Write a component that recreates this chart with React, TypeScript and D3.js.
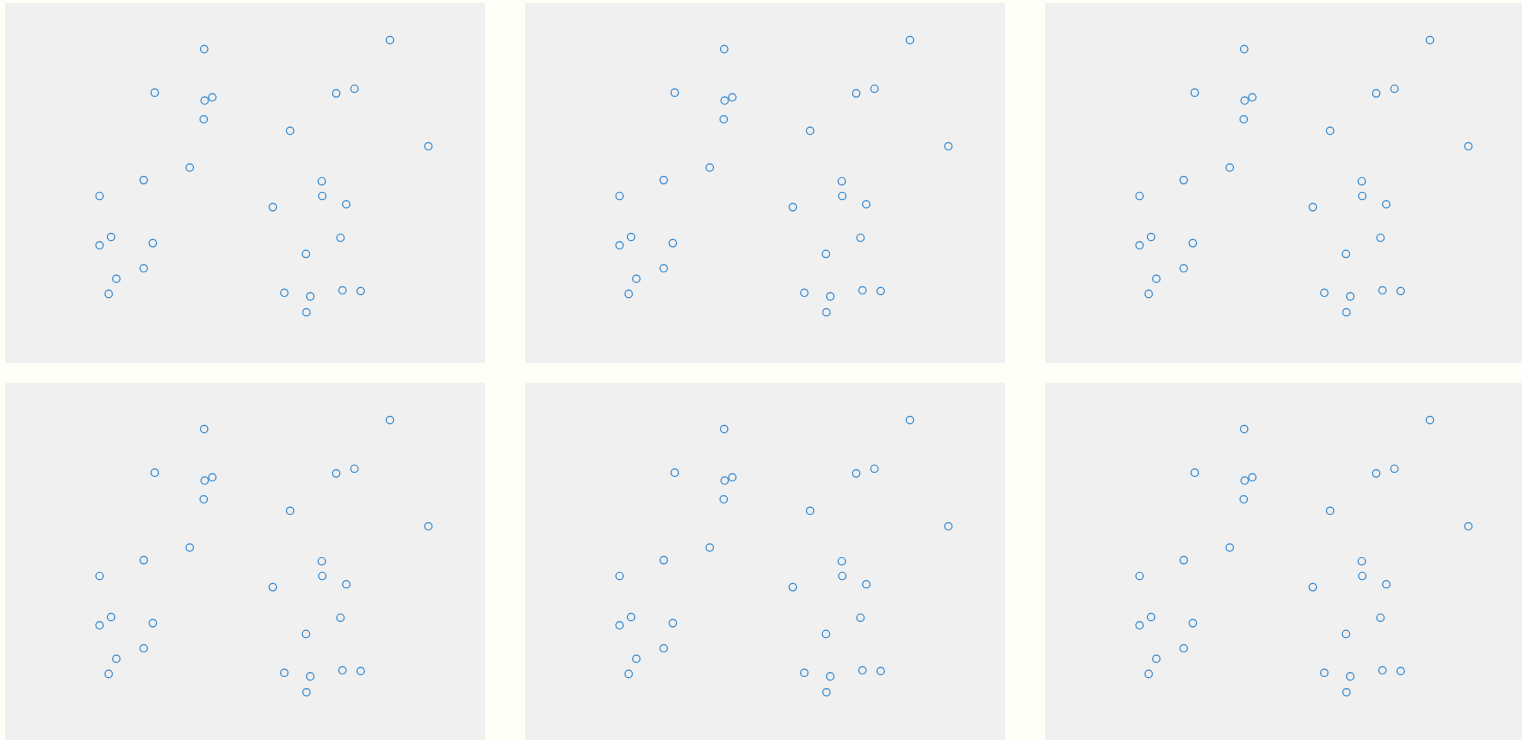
import React, { useEffect, useRef } from 'react';
import * as d3 from 'd3';

// scatter values (same set drawn in every panel)
const xValues = [
  41.5, 80.2, 31.2, 41.6, 43.2, 69.0, 72.8, 41.4, 59.4, 88.2,
  38.5, 28.9, 19.7, 66.0, 66.1, 71.1, 55.8, 22.1, 19.7, 30.8,
  69.9, 62.7, 28.9, 23.2, 21.6, 58.2, 63.6, 70.3, 74.1, 62.8,
];
const yValues = [
  87.2, 89.7, 75.1, 72.9, 73.8, 74.9, 76.2, 67.7, 64.5, 60.2,
  54.3, 50.8, 46.4, 50.5, 46.4, 44.1, 43.3, 35.0, 32.7, 33.3,
  34.8, 30.3, 26.3, 23.4, 19.2, 19.5, 18.5, 20.2, 20.0, 14.1,
];
const panels = [0, 1, 2, 3, 4, 5];

const W = 1522;
const H = 740;
const panelW = 480;
const panelH = 360;

export default function App() {
  const ref = useRef<SVGSVGElement>(null);

  useEffect(() => {
    const svg = d3.select(ref.current);
    svg.selectAll('*').remove();

    svg.append('rect').attr('width', W).attr('height', H).attr('fill', '#fffff8');

    const x = d3.scaleLinear().domain([0, 100]).range([0, panelW]);
    const y = d3.scaleLinear().domain([0, 100]).range([panelH, 0]);
    const points = xValues.map((v, i) => ({ x: v, y: yValues[i] }));

    panels.forEach((p) => {
      const col = p % 3;
      const row = Math.floor(p / 3);
      const g = svg
        .append('g')
        .attr('transform', 'translate(' + (5 + col * 520) + ',' + (3 + row * 380) + ')');
      g.append('rect').attr('width', panelW).attr('height', panelH).attr('fill', '#f0f0f0');
      g.selectAll('circle')
        .data(points)
        .enter()
        .append('circle')
        .attr('cx', (d) => x(d.x))
        .attr('cy', (d) => y(d.y))
        .attr('r', 3.7)
        .attr('fill', 'none')
        .attr('stroke', '#3f8fd2')
        .attr('stroke-width', 1.2);
    });
  }, []);

  return (
    <svg
      ref={ref}
      width={W}
      height={H}
      style={{ position: 'absolute', left: 0, top: 0, display: 'block' }}
    />
  );
}
